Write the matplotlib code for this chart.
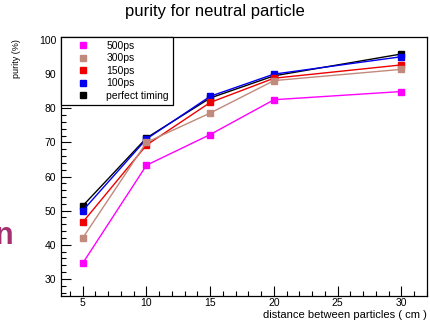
import matplotlib.pyplot as plt
from matplotlib.ticker import MultipleLocator

plt.rcParams['font.family'] = ['Liberation Sans', 'DejaVu Sans']

distance = [5, 10, 15, 20, 30]
purity_500ps = [34.6, 63.3, 72.3, 82.5, 84.9]
purity_300ps = [42.0, 70.0, 78.6, 88.1, 91.4]
purity_150ps = [46.6, 69.2, 81.7, 88.8, 92.7]
purity_100ps = [50.0, 71.0, 83.5, 90.0, 95.1]
purity_perfect = [51.4, 71.3, 83.0, 89.5, 95.9]

series = [
    ('500ps', purity_500ps, '#ff00ff'),
    ('300ps', purity_300ps, '#c08a7c'),
    ('150ps', purity_150ps, '#ee0000'),
    ('100ps', purity_100ps, '#0000ee'),
    ('perfect timing', purity_perfect, '#000000'),
]

fig = plt.figure(figsize=(4.3, 3.21), dpi=100)
ax = fig.add_axes([0.142, 0.078, 0.851, 0.807])

# draw in reverse so the legend order stays top-down like the original
for label, vals, col in series[::-1]:
    ax.plot(distance, vals, color=col, lw=1.0, marker='s', markersize=5,
            label=label)

ax.set_xlim(3.3, 32.0)
ax.set_ylim(25, 100.9)
ax.xaxis.set_major_locator(MultipleLocator(5))
ax.xaxis.set_minor_locator(MultipleLocator(1))
ax.yaxis.set_major_locator(MultipleLocator(10))
ax.yaxis.set_minor_locator(MultipleLocator(2))
ax.tick_params(which='both', direction='in', top=False, right=False,
               labelsize=7.5, width=0.8)
ax.tick_params(which='major', length=7)
ax.tick_params(which='minor', length=3.5)
ax.tick_params(axis='x', pad=1.5)
for s in ax.spines.values():
    s.set_linewidth(0.9)

handles, labels = ax.get_legend_handles_labels()
handles = handles[::-1]
labels = labels[::-1]
leg = ax.legend(
    [plt.Line2D([], [], ls='none', marker='s', markersize=4,
                color=h.get_color()) for h in handles],
    labels, loc='upper left', bbox_to_anchor=(0.0, 1.0), fontsize=7.5,
    frameon=True, fancybox=False, edgecolor='black', framealpha=1,
    handlelength=3.6, handletextpad=0.4, labelspacing=0.25,
    borderpad=0.35, borderaxespad=0.0)
leg.get_frame().set_linewidth(0.9)

fig.text(0.5, 0.965, 'purity for neutral particle', ha='center',
         va='center', fontsize=12)
fig.text(0.993, 0.019, 'distance between particles ( cm )', ha='right',
         va='center', fontsize=8)
fig.text(0.038, 0.878, 'purity (%)', rotation=90, ha='center', va='top',
         fontsize=6.5)
fig.text(-0.012, 0.265, 'n', color='#a3306f', fontsize=22,
         fontweight='bold', ha='left', va='center')

fig.savefig('out.png', dpi=100)
